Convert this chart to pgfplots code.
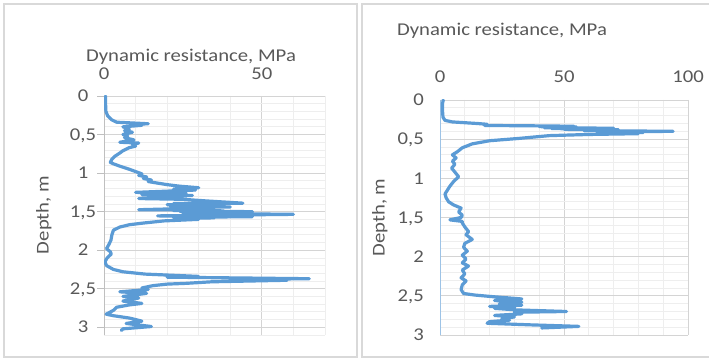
\documentclass[border=0pt]{standalone}
\usepackage{fontspec}
\setmainfont{Carlito}[FakeStretch=1.15]
\usepackage{pgfplots}
\pgfplotsset{compat=1.18}
\definecolor{ser}{HTML}{5B9BD5}
\definecolor{txt}{HTML}{595959}
\definecolor{majg}{HTML}{D4D4D4}
\definecolor{ming}{HTML}{EEEEEE}
\definecolor{frm}{HTML}{D9D9D9}
\definecolor{yax}{HTML}{BFBFBF}
\definecolor{yaxb}{HTML}{9DC3E6}
\newcommand\ff{\fontsize{18}{21.6}\selectfont}
\pgfplotsset{
  dr/.style={
    scale only axis,
    y dir=reverse,
    axis x line*=top,
    axis y line*=left,
    x axis line style={-,draw=majg,line width=0.8pt},
    ymin=0, xmin=0,
    ytick={0,0.5,1,1.5,2,2.5,3},
    yticklabels={0,{0,5},1,{1,5},2,{2,5},3},
    grid=both,
    major grid style={majg,line width=0.8pt},
    minor grid style={ming,line width=0.8pt},
    xtick style={draw=none},
    minor tick length=0pt,
    tick label style={font=\ff,text=txt},
    xticklabel style={inner sep=0pt,anchor=south},
    yticklabel style={inner sep=0pt,text height=11.4pt,text depth=0pt},
  },
  prof/.style={ser,line width=3.2pt,line join=round,line cap=round,mark=none},
}
\begin{document}
\begin{tikzpicture}
\path[use as bounding box] (0pt,0pt) rectangle (709pt,358pt);
\fill[white] (0pt,0pt) rectangle (709pt,358pt);
\draw[frm,line width=1.2pt] (4pt,1pt) rectangle (357pt,354pt);
\draw[frm,line width=1.2pt] (715pt,354pt) -- (362pt,354pt) -- (362pt,1pt) -- (715pt,1pt);

% ---------- left panel ----------
\begin{axis}[dr,
  at={(104pt,262pt)}, anchor=north west,
  width=221pt, height=239pt,
  xmax=70, ymax=3.1,
  xtick={0,50}, xticklabels={0,50},
  minor xtick={10,20,30,40,60,70},
  minor ytick={0.1,0.2,0.3,0.4,0.6,0.7,0.8,0.9,1.1,1.2,1.3,1.4,1.6,1.7,1.8,1.9,2.1,2.2,2.3,2.4,2.6,2.7,2.8,2.9,3.1},
  y axis line style={-,draw=yax,line width=0.8pt},
  ytick style={draw=yax,line width=0.8pt},
  major tick length=7pt, tick align=outside,
  xticklabel shift=9.5pt, yticklabel shift=14pt,
  yticklabel style={anchor=center},
]
\addplot[prof] coordinates {
(0.5,0.00) (0.5,0.10) (0.6,0.20) (1.2,0.26) (2.5,0.31) (4,0.34) (14,0.36) (9,0.37) (12,0.38)
(6,0.40) (8,0.43) (6.5,0.45) (9,0.47) (6,0.50) (7.5,0.52) (6.5,0.54) (9.5,0.57) (5,0.60)
(11,0.61) (9,0.63) (10,0.65) (8,0.67) (6,0.71) (5,0.74) (3.5,0.78) (2.5,0.82) (2,0.86)
(3,0.88) (5,0.91) (8,0.95) (10,0.98) (12,1.01) (11,1.03) (13.5,1.05) (12.5,1.07) (15,1.09)
(14,1.11) (17,1.13) (20,1.15) (24,1.17) (30,1.19) (22,1.21) (29,1.22) (10,1.25) (26,1.26)
(12,1.28) (28,1.29) (14,1.31) (23,1.32) (11,1.33) (25,1.34)
(32,1.36) (44,1.39) (22,1.395) (37,1.40) (20,1.41) (38,1.415) (24,1.42) (36,1.425) (21,1.43)
(40,1.44) (25,1.445) (35,1.45) (11,1.475) (33,1.48) (22,1.485) (38,1.49) (24,1.495) (47,1.50)
(28,1.51) (36,1.515) (25,1.52) (60,1.535) (38,1.545) (17,1.555) (30,1.56) (47,1.565) (22,1.575)
(35,1.58) (24,1.59) (30,1.60) (19,1.62) (12,1.65)
(8,1.67) (5,1.70) (3,1.74) (2.5,1.80) (2.2,1.87) (1.5,1.93) (0.8,1.98) (2,2.02) (2.3,2.05)
(1,2.10) (0.3,2.15) (0.8,2.20) (3,2.25) (6,2.28) (13,2.31) (30,2.34) (20,2.35) (65,2.37)
(40,2.38) (58,2.39) (34,2.41) (26,2.43) (20,2.44) (15.5,2.46) (12,2.49) (14,2.51) (5,2.54)
(13.5,2.56) (6,2.60) (11,2.62) (6,2.66) (12,2.69) (8,2.71) (4,2.74) (3,2.78) (0.7,2.83)
(3,2.85) (8,2.88) (12,2.92) (7,2.95) (15,2.99) (6,3.02) (5.5,3.04)
};
\end{axis}

% ---------- right panel ----------
\begin{axis}[dr,
  at={(440pt,258pt)}, anchor=north west,
  width=248pt, height=235pt,
  xmax=100, ymax=3,
  xtick={0,50,100}, xticklabels={0,50,100},
  minor xtick={10,20,30,40,60,70,80,90},
  minor ytick={0.1,0.2,0.3,0.4,0.6,0.7,0.8,0.9,1.1,1.2,1.3,1.4,1.6,1.7,1.8,1.9,2.1,2.2,2.3,2.4,2.6,2.7,2.8,2.9},
  y axis line style={-,draw=yaxb,line width=1pt},
  ytick style={draw=none},
  major tick length=0pt,
  xticklabel shift=17pt, yticklabel shift=16pt,
  yticklabel style={anchor=east},
]
\addplot[prof] coordinates {
(1.3,0.00) (1,0.05) (1,0.13) (1.2,0.22) (2,0.26) (5,0.28) (15,0.30) (19,0.31) (18,0.325)
(38,0.33) (54,0.335) (40,0.34) (55,0.345) (42,0.355) (70,0.36) (45,0.365) (68,0.37) (50,0.375)
(72,0.38) (58,0.39) (94,0.40) (70,0.405) (82,0.415) (65,0.42) (80,0.43) (60,0.44) (44,0.455)
(32,0.49) (20,0.52) (13,0.56) (9,0.61) (7,0.66) (5,0.70) (6.5,0.74)
(5,0.78) (6,0.82) (4.7,0.87) (6,0.92) (7.5,0.98) (5.5,1.04) (4,1.10) (3,1.15) (2,1.20)
(2.5,1.25) (3.5,1.30) (5.5,1.34) (8.5,1.38) (7.5,1.43) (9,1.47) (8.5,1.50) (4,1.53) (9,1.55)
(9,1.57) (10,1.62) (11.5,1.68) (10.5,1.72) (13,1.78) (10,1.83) (9.5,1.88) (11,1.93) (9,1.98)
(10.5,2.03) (9,2.08) (11.5,2.12) (9,2.17) (10,2.22) (8.5,2.27) (10.5,2.31) (9,2.36) (8.5,2.42)
(9.5,2.47) (14,2.49) (21,2.51) (33,2.54) (22,2.56) (33,2.58) (24,2.60) (33,2.62) (20,2.635)
(30,2.65) (22,2.66) (31,2.68) (51,2.70) (30,2.71) (33,2.73) (22,2.75) (30,2.77) (25,2.79)
(28,2.81) (20,2.83) (19,2.85) (36,2.87) (56,2.89) (41,2.91)
};
\end{axis}

\node[font=\ff,text=txt,anchor=base] at (191pt,296.3pt) {Dynamic resistance, MPa};
\node[font=\ff,text=txt,anchor=base] at (502pt,322.3pt) {Dynamic resistance, MPa};
\node[font=\ff,text=txt,anchor=base,rotate=90] at (48.5pt,143pt) {Depth, m};
\node[font=\ff,text=txt,anchor=base,rotate=90] at (384.7pt,140.5pt) {Depth, m};
\end{tikzpicture}
\end{document}
